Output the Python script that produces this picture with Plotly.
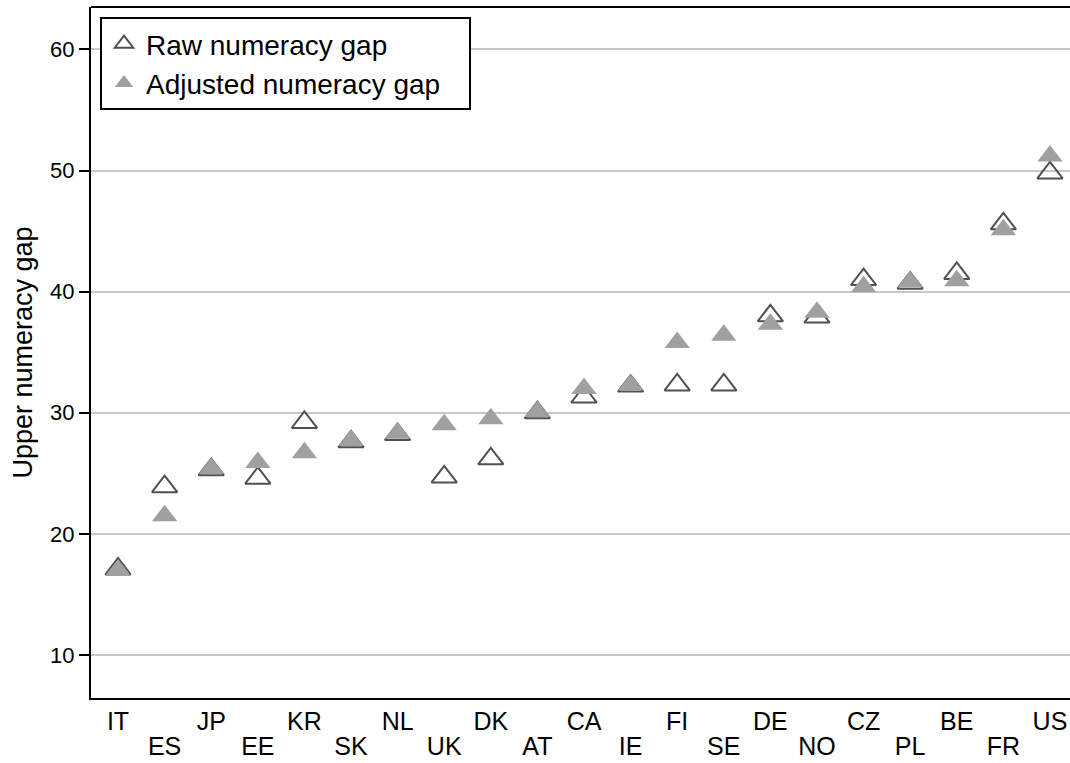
import plotly.graph_objects as go

countries = ["IT", "ES", "JP", "EE", "KR", "SK", "NL", "UK", "DK", "AT", "CA",
             "IE", "FI", "SE", "DE", "NO", "CZ", "PL", "BE", "FR", "US"]
raw_gap = [17.1, 23.9, 25.3, 24.6, 29.2, 27.6, 28.2, 24.7, 26.2, 30.0, 31.3,
           32.2, 32.3, 32.3, 38.0, 37.9, 41.0, 40.7, 41.5, 45.6, 49.8]
adj_gap = [17.0, 21.5, 25.4, 25.9, 26.7, 27.7, 28.3, 29.0, 29.5, 30.1, 32.0,
           32.3, 35.8, 36.4, 37.3, 38.3, 40.4, 40.8, 40.9, 45.1, 51.2]
y_ticks = [10, 20, 30, 40, 50, 60]

xpos = list(range(1, len(countries) + 1))
row1_pos = xpos[0::2]
row1_txt = countries[0::2]
row2_pos = xpos[1::2]
row2_txt = countries[1::2]

FONT = "Liberation Sans, Arial, sans-serif"
PAD = "\u00a0\u00a0\u00a0"
XRANGE = [0.42, 21.43]

fig = go.Figure()
fig.add_trace(go.Scatter(
    x=xpos, y=raw_gap, mode="markers", name="Raw numeracy gap" + PAD,
    marker=dict(symbol="triangle-up-open", size=22, color="#505050",
                line=dict(width=2, color="#505050")),
))
fig.add_trace(go.Scatter(
    x=xpos, y=adj_gap, mode="markers", name="Adjusted numeracy gap" + PAD,
    marker=dict(symbol="triangle-up", size=22, color="#a0a0a0",
                line=dict(width=0)),
))
# invisible carrier so the second label row (xaxis2) is drawn
fig.add_trace(go.Scatter(
    x=xpos, y=adj_gap, mode="markers", xaxis="x2", yaxis="y",
    marker=dict(size=1, opacity=0), showlegend=False, hoverinfo="skip",
))

fig.update_layout(
    width=1070, height=763,
    margin=dict(l=91, r=0, t=7, b=65),
    paper_bgcolor="white", plot_bgcolor="white",
    font=dict(family=FONT, color="black"),
    showlegend=True,
    legend=dict(
        x=0.0092, y=0.9855, xanchor="left", yanchor="top",
        bordercolor="black", borderwidth=2, bgcolor="white",
        font=dict(size=28, family=FONT, color="black"),
        itemwidth=34, tracegroupgap=0,
    ),
    xaxis=dict(
        range=XRANGE, automargin=False,
        tickmode="array", tickvals=row1_pos, ticktext=row1_txt,
        tickfont=dict(size=25, family=FONT, color="black"),
        showgrid=False, zeroline=False,
        showline=True, linecolor="black", linewidth=2,
        ticks="", mirror=False,
    ),
    xaxis2=dict(
        range=XRANGE, automargin=False, overlaying="x", anchor="y",
        side="bottom",
        tickmode="array", tickvals=row2_pos, ticktext=row2_txt,
        tickfont=dict(size=25, family=FONT, color="black"),
        showgrid=False, zeroline=False, showline=False,
        ticks="", ticklabelstandoff=31,
    ),
    yaxis=dict(
        range=[6.45, 63.5], automargin=False,
        tickmode="array", tickvals=y_ticks,
        tickfont=dict(size=22, family=FONT, color="black"),
        showgrid=True, gridcolor="#c8c8c8", gridwidth=2,
        zeroline=False,
        showline=True, linecolor="black", linewidth=2,
        ticks="outside", ticklen=10, tickwidth=2, tickcolor="black",
        title=dict(text="Upper numeracy gap", standoff=10,
                   font=dict(size=27, family=FONT, color="black")),
    ),
    shapes=[dict(type="line", xref="paper", yref="paper",
                 x0=0, x1=1, y0=1, y1=1,
                 line=dict(color="black", width=2))],
)

fig.write_html("out.html", config={"displayModeBar": False},
               post_script="document.body.style.margin='0';")
